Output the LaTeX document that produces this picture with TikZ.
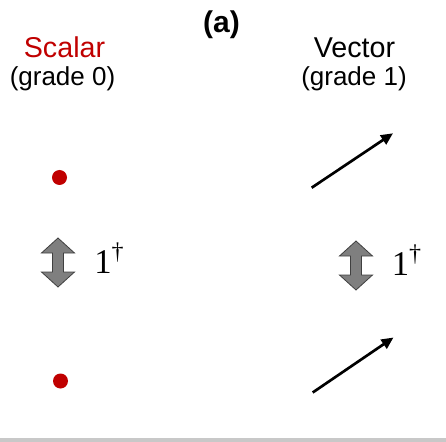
\documentclass[tikz,border=0pt]{standalone}
\usepackage{fontspec}
\setmainfont{Liberation Sans}
\newfontfamily\serifone{Liberation Serif}
\usetikzlibrary{arrows.meta}
\definecolor{scalarred}{HTML}{C00000}
\definecolor{dblgray}{HTML}{7F7F7F}
\definecolor{bargray}{HTML}{C8C8C8}
\tikzset{
  label/.style={inner sep=0pt, anchor=base, font=\fontsize{21.5}{26}\selectfont},
  sublabel/.style={inner sep=0pt, anchor=base, font=\fontsize{19.5}{24}\selectfont},
  dot/.style={circle, fill=scalarred, inner sep=0pt, minimum size=11.25pt},
  vec/.style={line width=2pt, -{Triangle[length=9pt,width=8pt]}},
  dbl/.pic={
    \draw[fill=dblgray, draw=black!75, line width=0.6pt]
      (0,-24.5) -- (16.5,-9.5) -- (5.5,-9.5) -- (5.5,9.5) -- (16.5,9.5) -- (0,24.5)
      -- (-16.5,9.5) -- (-5.5,9.5) -- (-5.5,-9.5) -- (-16.5,-9.5) -- cycle;
  },
  onedag/.style={inner sep=0pt, anchor=base west, font=\serifone\fontsize{26}{30}\selectfont}
}
\newcommand{\onedagtext}{1\raisebox{10pt}{\fontsize{18}{20}\selectfont †}}
\begin{document}
\begin{tikzpicture}[x=0.75pt,y=-0.75pt]
\useasboundingbox (0,0) rectangle (446,442);
\fill[bargray] (0,437.5) rectangle (446,442);
\node[label, font=\bfseries\fontsize{22.5}{26}\selectfont] (title) at (221.5,32.5) {(a)};
\node[label, text=scalarred] (scalar) at (64.5,58) {Scalar};
\node[sublabel] (grade0) at (62.5,86) {(grade 0)};
\node[label] (vector) at (354.5,58) {Vector};
\node[sublabel] (grade1) at (354,86) {(grade 1)};
% scalars
\node[dot] (s1) at (59.5,177.5) {};
\node[dot] (s2) at (60.5,381) {};
% vectors
\coordinate (v1a) at (311.7,187.7);
\coordinate (v1b) at (393,133.3);
\coordinate (v2a) at (312.7,392.5);
\coordinate (v2b) at (393.5,337.5);
\draw[vec] (v1a) -- (v1b);
\draw[vec] (v2a) -- (v2b);
% double arrows
\pic (d1) at (58,262.5) {dbl};
\pic (d2) at (356,265.5) {dbl};
\node[onedag] (o1) at (94,273) {\onedagtext};
\node[onedag] (o2) at (391.5,275) {\onedagtext};
\end{tikzpicture}
\end{document}
